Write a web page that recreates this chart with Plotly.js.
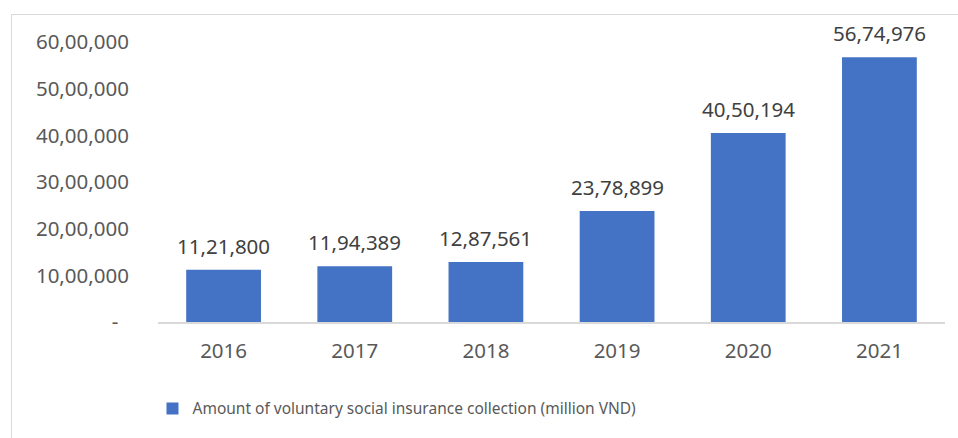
<!DOCTYPE html>
<html>
<head>
<meta charset="utf-8">
<script src="https://cdn.plot.ly/plotly-3.0.1.min.js"></script>
<style>
  html, body { margin: 0; padding: 0; background: #fff; overflow: hidden; }
  #wrap { position: relative; width: 958px; height: 438px; }
  #frame { position: absolute; left: 11px; top: 14px; width: 960px; height: 440px; border: 1.5px solid #d9d9d9; box-sizing: border-box; pointer-events: none; }
  #chart { position: absolute; left: 0; top: 0; width: 958px; height: 438px; }
</style>
</head>
<body>
<div id="wrap">
  <div id="chart"></div>
  <div id="frame"></div>
</div>
<script>
var years = ['2016', '2017', '2018', '2019', '2020', '2021'];
var collection = [1121800, 1194389, 1287561, 2378899, 4050194, 5674976];
var seriesName = 'Amount of voluntary social insurance collection (million VND)';
var yTickValues = [0, 1000000, 2000000, 3000000, 4000000, 5000000, 6000000];
var yTickLabels = ['-\u00a0\u00a0', '10,00,000', '20,00,000', '30,00,000', '40,00,000', '50,00,000', '60,00,000'];

function fmtIndian(n) {
  var s = String(Math.round(n));
  if (s.length <= 3) return s;
  var last3 = s.slice(-3);
  var rest = s.slice(0, -3);
  var parts = [];
  while (rest.length > 2) { parts.unshift(rest.slice(-2)); rest = rest.slice(0, -2); }
  if (rest.length) parts.unshift(rest);
  return parts.join(',') + ',' + last3;
}

var font = '"Noto Sans", "Open Sans", sans-serif';
var xIdx = years.map(function (_, i) { return i; });

var trace = {
  type: 'bar',
  x: xIdx,
  y: collection,
  width: 0.57,
  name: seriesName,
  marker: { color: '#4472c4' },
  hoverinfo: 'none'
};

var annotations = xIdx.map(function (xi, i) {
  return {
    x: xi, y: collection[i], xref: 'x', yref: 'y',
    text: fmtIndian(collection[i]),
    showarrow: false, yanchor: 'bottom', yshift: 8,
    font: { family: font, size: 20.5, color: '#404040' }
  };
});

var layout = {
  width: 958, height: 438,
  margin: { l: 158, r: 13, t: 42, b: 116 },
  paper_bgcolor: 'rgba(0,0,0,0)',
  plot_bgcolor: 'rgba(0,0,0,0)',
  showlegend: true,
  legend: {
    orientation: 'h', x: -0.007, xanchor: 'left', y: -0.31, yanchor: 'middle',
    font: { family: font, size: 15.5, color: '#595959' },
    itemwidth: 30
  },
  xaxis: {
    type: 'linear',
    range: [-0.5, 5.5],
    tickvals: xIdx, ticktext: years,
    showgrid: false, zeroline: false,
    showline: true, linecolor: '#d9d9d9', linewidth: 1.5,
    ticks: '', ticklabelstandoff: 10,
    tickfont: { family: font, size: 20.5, color: '#595959' }
  },
  yaxis: {
    range: [0, 6000000],
    tickvals: yTickValues, ticktext: yTickLabels,
    showgrid: false, zeroline: false, showline: false,
    ticks: '', ticklabelstandoff: 28,
    tickfont: { family: font, size: 20.5, color: '#595959' }
  },
  annotations: annotations
};

Plotly.newPlot('chart', [trace], layout, { displayModeBar: false, staticPlot: true });
</script>
</body>
</html>
